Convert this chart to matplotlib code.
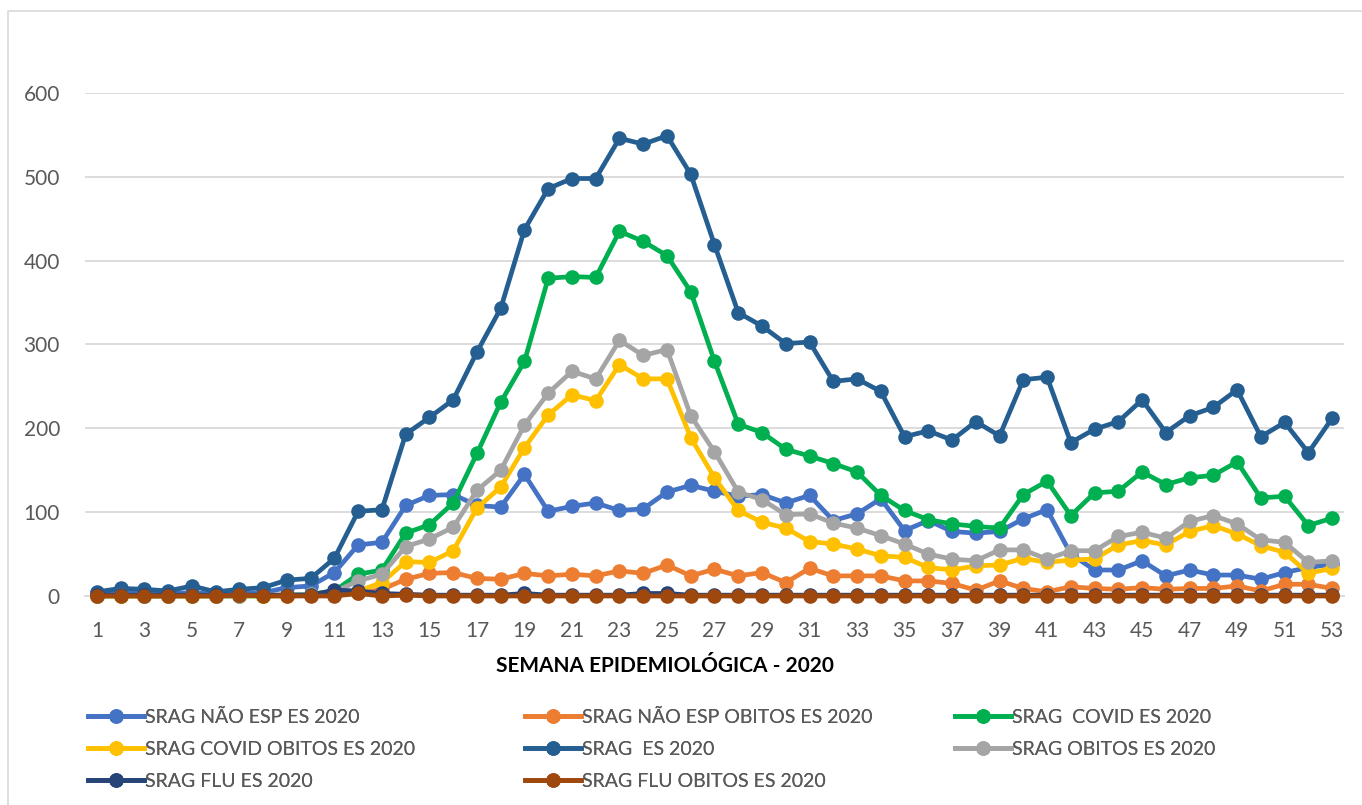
import matplotlib
matplotlib.use("Agg")
import matplotlib.pyplot as plt
from matplotlib.lines import Line2D
from matplotlib.patches import Rectangle

plt.rcParams['font.family'] = ['Lato', 'DejaVu Sans']

weeks = list(range(1, 54))

srag_nao_esp = [3, 4, 3, 3, 4, 2, 3, 4, 10, 12, 28, 61, 64, 108, 120, 121, 108, 106, 145, 101,
                107, 111, 102, 104, 124, 132, 125, 119, 121, 111, 120, 90, 98, 116, 78, 90, 77, 75,
                77, 92, 103, 50, 31, 31, 42, 24, 31, 25, 25, 20, 28, 34, 38]
srag_nao_esp_obitos = [0, 1, 0, 0, 1, 0, 0, 1, 1, 1, 2, 3, 8, 20, 27, 28, 21, 20, 27, 24,
                       26, 24, 30, 27, 37, 24, 32, 24, 28, 16, 33, 24, 24, 24, 18, 18, 15, 7,
                       18, 9, 5, 11, 9, 8, 10, 8, 9, 9, 12, 6, 14, 14, 9]
srag_covid = [0, 0, 0, 0, 0, 0, 0, 0, 1, 2, 6, 26, 31, 75, 85, 111, 170, 231, 280, 379,
              381, 380, 435, 423, 406, 363, 280, 205, 195, 175, 167, 158, 148, 120, 102, 91, 86, 83,
              81, 121, 137, 96, 123, 125, 148, 133, 141, 144, 160, 117, 119, 84, 93]
srag_covid_obitos = [0, 0, 0, 0, 0, 0, 0, 0, 0, 1, 2, 6, 16, 41, 40, 54, 105, 130, 177, 216,
                     240, 233, 276, 259, 259, 189, 141, 102, 88, 81, 65, 62, 56, 48, 46, 34, 31, 36,
                     37, 45, 40, 43, 44, 61, 66, 61, 77, 84, 74, 60, 52, 27, 33]
srag_es = [5, 9, 8, 6, 12, 5, 8, 10, 19, 21, 45, 101, 103, 193, 213, 234, 291, 343, 437, 486,
           498, 498, 546, 539, 549, 503, 419, 338, 322, 301, 303, 256, 259, 244, 190, 197, 186, 208,
           191, 258, 261, 183, 199, 208, 234, 195, 215, 225, 246, 190, 207, 171, 212]
srag_obitos = [0, 1, 0, 0, 1, 0, 0, 1, 1, 2, 5, 18, 26, 59, 68, 82, 126, 150, 204, 242,
               268, 259, 305, 287, 294, 215, 172, 124, 115, 97, 98, 87, 81, 72, 62, 50, 44, 42,
               55, 55, 44, 54, 54, 71, 76, 69, 89, 96, 86, 67, 64, 40, 42]
srag_flu = [1, 1, 1, 1, 1, 1, 1, 1, 1, 1, 7, 6, 3, 2, 1, 1, 1, 1, 3, 1,
            1, 1, 1, 3, 3, 1, 1, 1, 1, 1, 1, 1, 1, 1, 1, 1, 1, 1,
            1, 1, 1, 1, 1, 1, 1, 1, 1, 1, 1, 1, 1, 1, 1]
srag_flu_obitos = [0, 0, 0, 0, 0, 0, 1, 0, 0, 0, 0, 3, 0, 1, 0, 0, 0, 0, 0, 0,
                   0, 0, 0, 0, 0, 0, 0, 0, 0, 0, 0, 0, 0, 0, 0, 0, 0, 0,
                   0, 0, 0, 0, 0, 0, 0, 0, 0, 0, 0, 0, 0, 0, 0]

labels = ["SRAG NÃO ESP ES 2020", "SRAG NÃO ESP OBITOS ES 2020", "SRAG  COVID ES 2020",
          "SRAG COVID OBITOS ES 2020", "SRAG  ES 2020", "SRAG OBITOS ES 2020",
          "SRAG FLU ES 2020", "SRAG FLU OBITOS ES 2020"]
series = [srag_nao_esp, srag_nao_esp_obitos, srag_covid, srag_covid_obitos,
          srag_es, srag_obitos, srag_flu, srag_flu_obitos]
colors = ["#4472C4", "#ED7D31", "#00B050", "#FFC000", "#255E91", "#A5A5A5", "#264478", "#9E480E"]

y_ticks = [0, 100, 200, 300, 400, 500, 600]
x_tick_labels = list(range(1, 54, 2))

W, H = 1362, 805
fig = plt.figure(figsize=(W / 100, H / 100), dpi=100)
ax = fig.add_axes([85 / W, 1 - 596 / H, (1344 - 85) / W, (596 - 93) / H])

handles = []
for vals, lab, col in zip(series, labels, colors):
    h, = ax.plot(weeks, vals, color=col, lw=3.4, marker='o', markersize=10.5,
                 markeredgewidth=0, label=lab, clip_on=False, solid_joinstyle='round')
    handles.append(h)

ax.set_xlim(0.5, 53.5)
ax.set_ylim(0, 600)
ax.set_yticks(y_ticks)
ax.set_xticks(x_tick_labels)
ax.set_xticklabels([str(v) for v in x_tick_labels])
ax.grid(axis='y', color='#D9D9D9', lw=1.3)
ax.set_axisbelow(True)
for s in ['top', 'right', 'left']:
    ax.spines[s].set_visible(False)
ax.spines['bottom'].set_color('#D9D9D9')
ax.spines['bottom'].set_linewidth(1.3)
ax.spines['bottom'].set_zorder(0.5)
ax.tick_params(axis='both', length=0, labelsize=15, colors='#595959')
ax.tick_params(axis='y', pad=18)
ax.tick_params(axis='x', pad=18)

fig.text(665 / W, 1 - 666 / H, "SEMANA EPIDEMIOLÓGICA - 2020", ha='center', va='center',
         fontsize=15, fontweight='bold', color='#000000')

# chart border
fig.add_artist(Rectangle((8 / W, -0.05), 1.2, 1 - 11 / H + 0.05, transform=fig.transFigure,
                         fill=False, edgecolor='#D9D9D9', lw=1.2))

# legend in 3 columns (row-major order like the reference)
col_x = [88, 525, 955]
col_items = [[0, 3, 6], [1, 4, 7], [2, 5]]
for cx, items in zip(col_x, col_items):
    leg = fig.legend([handles[i] for i in items], [labels[i] for i in items],
                     loc='upper left', bbox_to_anchor=(cx / W, 1 - 709 / H),
                     frameon=False, fontsize=14, handlelength=2.9, handletextpad=0.05,
                     labelspacing=0.76, borderaxespad=0, borderpad=0, labelcolor='#595959')
    fig.add_artist(leg)

fig.savefig("out.png", dpi=100)
